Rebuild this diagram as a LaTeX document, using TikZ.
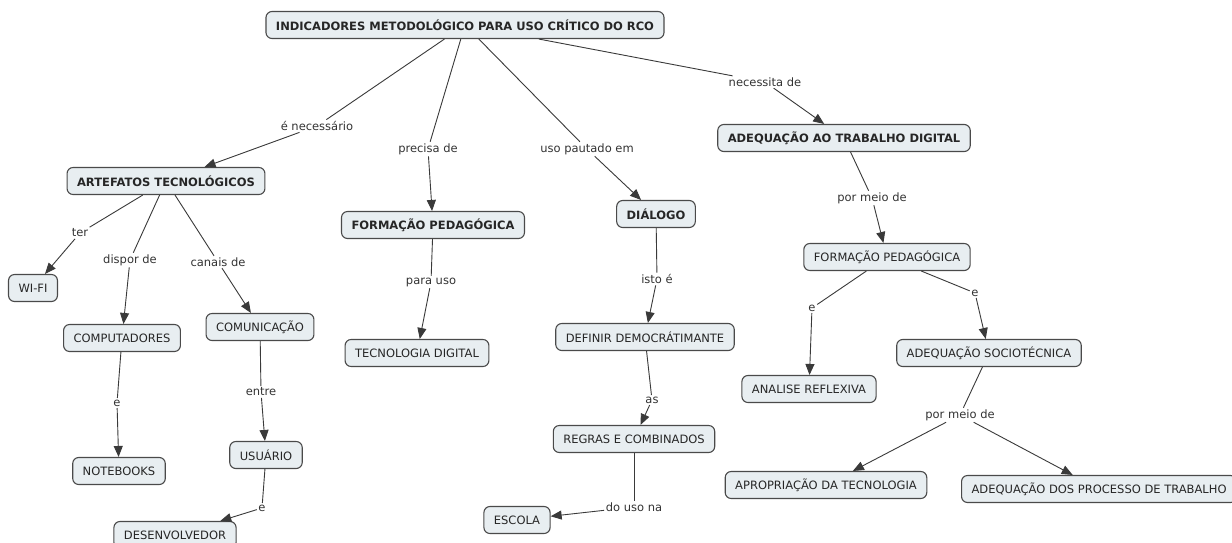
\documentclass[tikz,border=0pt]{standalone}
\usepackage{fontspec}
\setmainfont{DejaVu Sans}
\usetikzlibrary{arrows.meta}
\definecolor{boxfill}{HTML}{E8EEF1}
\definecolor{boxdraw}{HTML}{4A4A4A}
\definecolor{linkcol}{HTML}{3A3A3A}
\begin{document}
\begin{tikzpicture}[x=1pt,y=-1pt,
 concept/.style={draw=boxdraw, fill=boxfill, rounded corners=6pt, line width=1.1pt, inner xsep=10pt, minimum height=27pt, font=\fontsize{11.5}{13}\selectfont, text=black!85},
 bconcept/.style={concept, font=\fontsize{11.5}{13}\selectfont\bfseries},
 lab/.style={inner sep=1.5pt, font=\fontsize{11.5}{13}\selectfont, text=black!80},
 conn/.style={draw=linkcol, line width=0.9pt},
 arr/.style={conn, -{Triangle[length=11pt,width=9pt]}}
]
\fill[white] (0,0) rectangle (1232,542);
\useasboundingbox (0,0) rectangle (1232,542);

% concepts
\node[bconcept] (root) at (465,25) {INDICADORES METODOLÓGICO PARA USO CRÍTICO DO RCO};
\node[bconcept] (art) at (166,181) {ARTEFATOS TECNOLÓGICOS};
\node[bconcept] (fpa) at (433,225) {FORMAÇÃO PEDAGÓGICA};
\node[bconcept] (dia) at (656,214) {DIÁLOGO};
\node[bconcept] (adtd) at (844,138) {ADEQUAÇÃO AO TRABALHO DIGITAL};
\node[concept] (wifi) at (33,288) {WI-FI};
\node[concept] (comp) at (122,338) {COMPUTADORES};
\node[concept] (comu) at (260,327) {COMUNICAÇÃO};
\node[concept] (note) at (119,471) {NOTEBOOKS};
\node[concept] (usu) at (266,455) {USUÁRIO};
\node[concept] (dev) at (175,535) {DESENVOLVEDOR};
\node[concept] (tec) at (417,353) {TECNOLOGIA DIGITAL};
\node[concept] (def) at (645,337) {DEFINIR DEMOCRÁTIMANTE};
\node[concept] (reg) at (634,439) {REGRAS E COMBINADOS};
\node[concept] (esc) at (517,520) {ESCOLA};
\node[concept] (fpb) at (887,257) {FORMAÇÃO PEDAGÓGICA};
\node[concept] (ana) at (809,389) {ANALISE REFLEXIVA};
\node[concept] (soc) at (989,353) {ADEQUAÇÃO SOCIOTÉCNICA};
\node[concept] (apr) at (826,485) {APROPRIAÇÃO DA TECNOLOGIA};
\node[concept, anchor=west] (proc) at (961,489) {ADEQUAÇÃO DOS PROCESSO DE TRABALHO};

% link labels
\node[lab] (l1) at (317,126) {é necessário};
\node[lab] (l2) at (428,149) {precisa de};
\node[lab] (l3) at (587,149) {uso pautado em};
\node[lab] (l4) at (765,82) {necessita de};
\node[lab] (l5) at (80,233) {ter};
\node[lab] (l6) at (130,260) {dispor de};
\node[lab] (l7) at (218,262) {canais de};
\node[lab] (l8) at (117,403) {e};
\node[lab] (l9) at (261,392) {entre};
\node[lab] (l10) at (262,508) {e};
\node[lab] (l11) at (431,282) {para uso};
\node[lab] (l12) at (657,279) {isto é};
\node[lab] (l13) at (652,400) {as};
\node[lab] (l14) at (634,507) {do uso na};
\node[lab] (l15) at (872,198) {por meio de};
\node[lab] (l16) at (812,308) {e};
\node[lab] (l17) at (975,293) {e};
\node[lab] (l18) at (960,415) {por meio de};

% connectors
\draw[conn] (root) -- (l1); \draw[arr] (l1) -- (art);
\draw[conn] (root) -- (l2); \draw[arr] (l2) -- (fpa);
\draw[conn] (root) -- (l3); \draw[arr] (l3) -- (dia);
\draw[conn] (root) -- (l4); \draw[arr] (l4) -- (adtd);
\draw[conn] (art) -- (l5); \draw[arr] (l5) -- (wifi);
\draw[conn] (art) -- (l6); \draw[arr] (l6) -- (comp);
\draw[conn] (art) -- (l7); \draw[arr] (l7) -- (comu);
\draw[conn] (comp) -- (l8); \draw[arr] (l8) -- (note);
\draw[conn] (comu) -- (l9); \draw[arr] (l9) -- (usu);
\draw[conn] (usu) -- (l10); \draw[arr] (l10) -- (dev);
\draw[conn] (fpa) -- (l11); \draw[arr] (l11) -- (tec);
\draw[conn] (dia) -- (l12); \draw[arr] (l12) -- (def);
\draw[conn] (def) -- (l13); \draw[arr] (l13) -- (reg);
\draw[conn] (reg) -- (l14); \draw[arr] (l14) -- (esc);
\draw[conn] (adtd) -- (l15); \draw[arr] (l15) -- (fpb);
\draw[conn] (fpb) -- (l16); \draw[arr] (l16) -- (ana);
\draw[conn] (fpb) -- (l17); \draw[arr] (l17) -- (soc);
\draw[conn] (soc) -- (l18); \draw[arr] (l18) -- (apr); \draw[arr] (l18) -- (proc);
\end{tikzpicture}
\end{document}
